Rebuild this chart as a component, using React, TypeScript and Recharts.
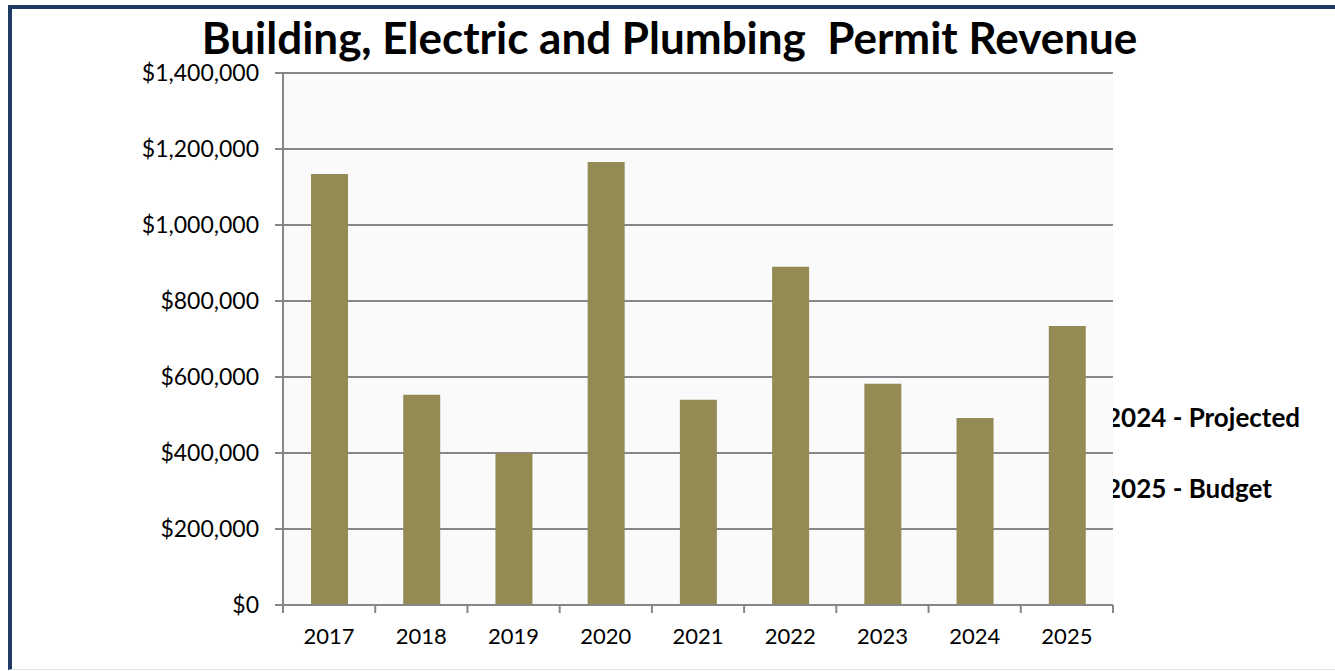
import React from "react";
import { Bar, BarChart, CartesianGrid, XAxis, YAxis } from "recharts";

const years = ["2017", "2018", "2019", "2020", "2021", "2022", "2023", "2024", "2025"];
const revenue = [1134000, 553000, 400000, 1166000, 540000, 890000, 582000, 492000, 734000];
const yTicks = [0, 200000, 400000, 600000, 800000, 1000000, 1200000, 1400000];
const notes = ["2024 - Projected", "2025 - Budget"];

const data = years.map((year, i) => ({ year, revenue: revenue[i] }));

const FONT = "Lato, 'Open Sans', sans-serif";
const PLOT_LEFT = 283;
const PLOT_RIGHT = 1113;
const BAND = (PLOT_RIGHT - PLOT_LEFT) / years.length;
const AXIS = "#878787";

const money = (v: number) => "$" + v.toLocaleString("en-US");

function XTick({ x, y, payload, index }: any) {
  const left = x - BAND / 2;
  return (
    <g>
      <line x1={left} x2={left} y1={y - 8} y2={y} stroke={AXIS} strokeWidth={2} />
      {index === years.length - 1 && (
        <line x1={x + BAND / 2} x2={x + BAND / 2} y1={y - 8} y2={y} stroke={AXIS} strokeWidth={2} />
      )}
      <text x={x} y={y + 31} textAnchor="middle" fontSize={22} fontFamily={FONT} fill="#000">
        {payload.value}
      </text>
    </g>
  );
}

export default function App() {
  return (
    <div
      style={{
        position: "absolute",
        left: 0,
        top: 0,
        width: 1335,
        height: 671,
        background: "#fff",
        overflow: "hidden",
      }}
    >
      <div
        style={{
          position: "absolute",
          left: 8,
          top: 5,
          right: -10,
          bottom: 1,
          borderLeft: "4px solid #1F3B63",
          borderTop: "4px solid #1F3B63",
          borderBottom: "1px solid #e4e4e4",
        }}
      />
      <div
        style={{
          position: "absolute",
          left: 0,
          width: 1335,
          top: 16,
          textAlign: "center",
          fontFamily: FONT,
          fontWeight: 700,
          fontSize: 44,
          lineHeight: "42px",
          whiteSpace: "pre",
          color: "#000",
          paddingLeft: 2,
        }}
      >
        Building, Electric and Plumbing  Permit Revenue
      </div>
      {notes.map((n, i) => (
        <div
          key={n}
          style={{
            position: "absolute",
            left: 1106,
            top: 401 + i * 71,
            fontFamily: FONT,
            fontWeight: 700,
            fontSize: 26,
            lineHeight: "32px",
            color: "#000",
            whiteSpace: "pre",
          }}
        >
          {n}
        </div>
      ))}
      <div style={{ position: "absolute", left: 0, top: 0 }}>
        <BarChart
          width={1335}
          height={671}
          data={data}
          margin={{ top: 73, right: 1335 - PLOT_RIGHT, bottom: 0, left: 0 }}
          barCategoryGap="30%"
        >
          <CartesianGrid vertical={false} stroke={AXIS} strokeWidth={2} fill="#FAFAFA" />
          <XAxis
            dataKey="year"
            axisLine={{ stroke: AXIS, strokeWidth: 2 }}
            tickLine={false}
            tick={<XTick />}
            interval={0}
            height={66}
          />
          <YAxis
            width={PLOT_LEFT}
            domain={[0, 1400000]}
            ticks={yTicks}
            tickFormatter={money}
            axisLine={{ stroke: AXIS, strokeWidth: 2 }}
            tickLine={{ stroke: AXIS, strokeWidth: 2 }}
            tickSize={8}
            tickMargin={16}
            tick={{ fontSize: 23, fontFamily: FONT, fill: "#000" }}
          />
          <Bar dataKey="revenue" fill="#948A54" barSize={37} isAnimationActive={false} />
        </BarChart>
      </div>
    </div>
  );
}
